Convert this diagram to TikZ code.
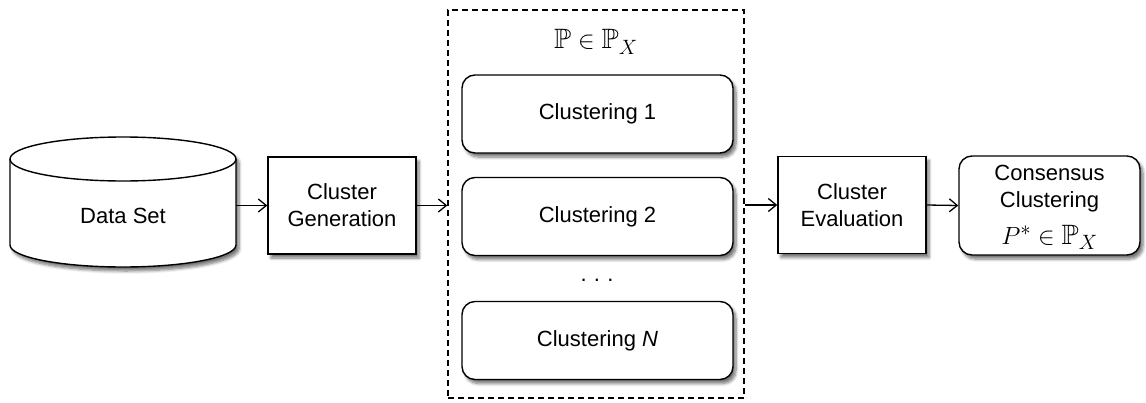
\documentclass[tikz,border=0pt]{standalone}
\usepackage{amssymb}
\usepackage{fontspec}
\setmainfont{Liberation Sans}
\usetikzlibrary{arrows.meta,shadows.blur}
\newcommand{\bigmath}[1]{{\fontsize{28}{30}\selectfont$#1$}}
\begin{document}
\begin{tikzpicture}[x=1pt,y=-1pt,
  shd/.style={blur shadow={shadow xshift=3pt,shadow yshift=-4pt,shadow blur steps=6,shadow blur radius=3pt,shadow opacity=55}},
  boxstyle/.style={draw,line width=1.4pt,fill=white,shd,inner sep=0pt,align=center,font=\fontsize{22}{27}\selectfont},
  sqbox/.style={boxstyle,minimum width=148pt,minimum height=97pt},
  rbox/.style={boxstyle,rounded corners=13pt,minimum width=271pt,minimum height=78pt},
  dashbox/.style={draw,line width=1.3pt,dash pattern=on 6pt off 4pt,minimum width=296pt,minimum height=388pt,inner sep=0pt},
  arr/.style={line width=1.3pt,-{Straight Barb[length=8pt,width=13pt,line width=1.3pt]}},
  txt/.style={font=\fontsize{22}{27}\selectfont,inner sep=0pt}]
\useasboundingbox (0,0) rectangle (1146,402);
% cylinder
\path[shd,fill=white,draw,line width=1.4pt] (10,159) -- (10,245) arc[start angle=180,end angle=0,x radius=113,y radius=22] -- (236,159) arc[start angle=0,end angle=-180,x radius=113,y radius=22] -- cycle;
\draw[line width=1.4pt] (10,159) arc[start angle=180,end angle=0,x radius=113,y radius=22];
\node[txt] (datatxt) at (123,216) {Data Set};
\node[inner sep=0pt,minimum width=226pt,minimum height=130pt] (data) at (123,202) {};
% boxes
\node[sqbox] (gen) at (342,205.5) {Cluster\\Generation};
\node[dashbox] (pbox) at (596,204) {};
\node[txt] (plabel) at (596,42) {\bigmath{\mathbb{P}\in\mathbb{P}_X}};
\node[rbox] (c1) at (597.5,114) {Clustering 1};
\node[rbox] (c2) at (597.5,216.5) {Clustering 2};
\node[txt] (dots) at (597,280) {.\,\,.\,\,.};
\node[rbox] (cn) at (597.5,340.5) {Clustering \textit{N}};
\node[sqbox] (eval) at (852,205) {Cluster\\Evaluation};
\node[boxstyle,rounded corners=13pt,minimum width=181pt,minimum height=99pt] (cons) at (1049.5,205.5) {};
\node[txt,align=center] (constxt) at (1049.5,189) {Consensus\\Clustering};
\node[txt] (consmath) at (1049.5,237.5) {\bigmath{P^{*}\in\mathbb{P}_X}};
% arrows
\draw[arr] (data.east |- gen.west) -- (gen.west);
\draw[arr] (gen.east) -- (pbox.west |- gen.east);
\draw[arr] (pbox.east |- eval.west) -- (eval.west);
\draw[arr] (eval.east) -- (cons.west);
\end{tikzpicture}
\end{document}
